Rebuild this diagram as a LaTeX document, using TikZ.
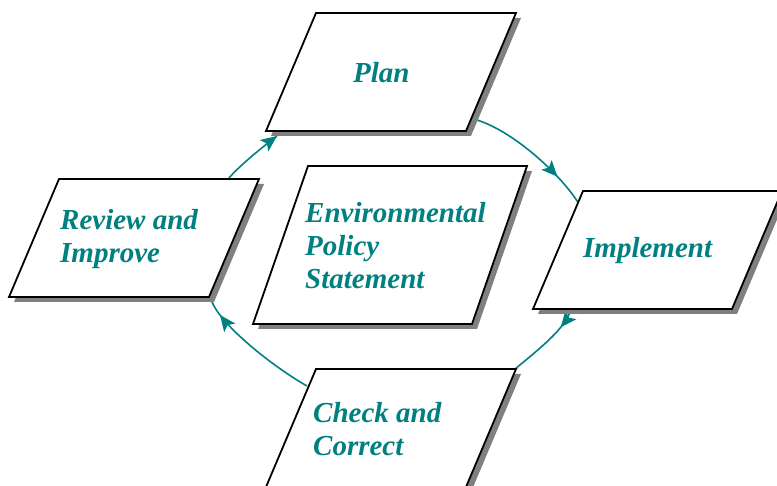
\documentclass[tikz,border=0pt]{standalone}
\usepackage{fontspec}
\setmainfont{Liberation Serif}
\usetikzlibrary{arrows.meta,decorations.markings}
\definecolor{tealc}{RGB}{0,128,128}
\definecolor{shad}{RGB}{128,128,128}
\tikzset{
 pgram/.style={draw=black, line width=1.8pt, fill=white, line join=miter},
 lbl/.style={text=tealc, font=\fontsize{29}{33}\selectfont\bfseries\itshape, align=left, anchor=base west, inner sep=0pt},
 cyc/.style={draw=tealc, line width=1.6pt},
 tipat/.style={postaction={decorate}, decoration={markings, mark=at position #1 with {\arrow{Stealth[length=16pt,width=14pt,inset=3.5pt]}}}}
}
\newcommand\pgm[5]{%
 \fill[shad] ({#1+5},{#2+5}) -- ++(#3,0) -- ++(#5,-#4) -- ++(-#3,0) -- cycle;
 \draw[pgram] (#1,#2) -- ++(#3,0) -- ++(#5,-#4) -- ++(-#3,0) -- cycle;
}
\begin{document}
\begin{tikzpicture}[x=1pt,y=-1pt]
\useasboundingbox (0,0) rectangle (777,486);
% connector end points
\coordinate (a1s) at (229,178);
\coordinate (a1e) at (277,136);
\coordinate (a2s) at (477,120);
\coordinate (a2e) at (579,204);
\coordinate (a3s) at (570,312);
\coordinate (a3e) at (514,370);
\coordinate (a4s) at (307,386);
\coordinate (a4e) at (212,302);
% connectors
\draw[cyc,tipat=0.999] (a1s) .. controls (239,166) and (265,145) .. (a1e);
\draw[cyc,tipat=0.74] (a2s) .. controls (515,132) and (562,176) .. (a2e);
\draw[cyc,tipat=0.22] (a3s) .. controls (563,332) and (530,356) .. (a3e);
\draw[cyc,tipat=0.88] (a4s) .. controls (272,366) and (222,326) .. (a4e);
% shapes
\pgm{266}{131}{200}{118}{50}
\pgm{533}{309}{199}{118}{50}
\pgm{9}{297}{200}{118}{50}
\pgm{253}{324}{219}{158}{55}
\pgm{266}{487}{200}{118}{50}
% labels (base = baseline of last line)
\node[lbl] (plan) at (353,83) {Plan};
\node[lbl] (review) at (60,263) {Review and\\Improve};
\node[lbl] (policy) at (305,289) {Environmental\\Policy\\Statement};
\node[lbl] (impl) at (583,258) {Implement};
\node[lbl] (check) at (313,455) {Check and\\Correct};
\end{tikzpicture}
\end{document}
